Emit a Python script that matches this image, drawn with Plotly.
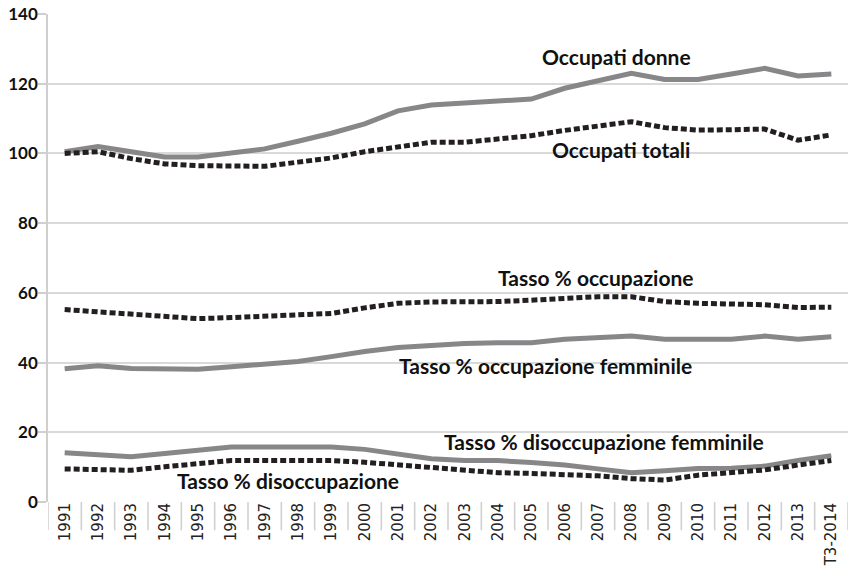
import plotly.graph_objects as go

categories = ["1991", "1992", "1993", "1994", "1995", "1996", "1997", "1998", "1999", "2000",
              "2001", "2002", "2003", "2004", "2005", "2006", "2007", "2008", "2009", "2010",
              "2011", "2012", "2013", "T3-2014"]

occupati_donne = [100.5, 102.0, 100.5, 99.0, 99.0, 100.3, 101.3, 103.5, 105.8, 108.5,
                  112.2, 113.9, 114.4, 115.0, 115.6, 118.7, 120.9, 123.0, 121.2, 121.2,
                  122.8, 124.4, 122.2, 122.8]
occupati_totali = [100.0, 100.5, 98.5, 97.0, 96.5, 96.3, 96.3, 97.5, 98.7, 100.5,
                   102.0, 103.2, 103.2, 104.0, 105.1, 106.6, 107.9, 109.1, 107.4, 106.7,
                   106.8, 107.0, 103.8, 105.3]
tasso_occupazione = [55.2, 54.6, 53.8, 53.2, 52.6, 52.9, 53.2, 53.5, 54.1, 55.7,
                     57.0, 57.4, 57.3, 57.5, 57.9, 58.4, 58.9, 58.9, 57.5, 57.0,
                     56.7, 56.6, 55.8, 55.9]
tasso_occ_femminile = [38.2, 39.1, 38.3, 38.1, 38.1, 38.8, 39.5, 40.3, 41.7, 43.2,
                       44.3, 45.0, 45.5, 45.7, 45.7, 46.7, 47.1, 47.6, 46.7, 46.7,
                       46.7, 47.6, 46.7, 47.4]
tasso_disocc_femminile = [14.1, 13.7, 13.0, 13.9, 14.8, 15.8, 15.8, 15.8, 15.8, 15.1,
                          13.8, 12.4, 11.9, 11.9, 11.3, 10.6, 9.5, 8.4, 9.0, 9.6,
                          9.7, 10.3, 11.9, 13.3]
tasso_disoccupazione = [9.5, 9.3, 9.1, 10.1, 11.1, 11.9, 11.9, 11.9, 11.9, 11.4,
                        10.6, 9.7, 9.0, 8.4, 8.2, 8.0, 7.5, 6.7, 6.3, 7.7,
                        8.4, 9.2, 10.6, 11.9]

y_ticks = [0, 20, 40, 60, 80, 100, 120, 140]

GRAY = "#87878a"
DARK = "#231f20"
solid = dict(color=GRAY, width=5)
dotted = dict(color=DARK, width=5, dash="6px,3px")

fig = go.Figure()
series = [
    ("Occupati donne", occupati_donne, solid),
    ("Occupati totali", occupati_totali, dotted),
    ("Tasso % occupazione", tasso_occupazione, dotted),
    ("Tasso % occupazione femminile", tasso_occ_femminile, solid),
    ("Tasso % disoccupazione femminile", tasso_disocc_femminile, solid),
    ("Tasso % disoccupazione", tasso_disoccupazione, dotted),
]
for name, vals, ln in series:
    fig.add_trace(go.Scatter(x=categories, y=vals, mode="lines", name=name, line=ln,
                             hoverinfo="skip"))

label_font = dict(family="Lato, sans-serif", size=21, color="#111111")
labels = [
    ("Occupati donne", 16.54, 127.7),
    ("Occupati totali", 16.69, 101.0),
    ("Tasso % occupazione", 15.94, 64.3),
    ("Tasso % occupazione femminile", 14.41, 39.1),
    ("Tasso % disoccupazione femminile", 16.18, 17.5),
    ("Tasso % disoccupazione", 6.7, 6.3),
]
for text, xi, yv in labels:
    fig.add_annotation(x=xi, y=yv, xref="x", yref="y", text="<b>" + text + "</b>",
                       showarrow=False, font=label_font, xanchor="center", yanchor="middle")

# category separators below the axis
for i in range(len(categories) + 1):
    fig.add_shape(type="line", xref="x", yref="paper", x0=i - 0.5, x1=i - 0.5,
                  y0=0, y1=-0.058, line=dict(color="#cfcfcf", width=1.5))

fig.update_layout(
    width=851, height=571,
    margin=dict(l=48, r=3, t=14, b=69),
    paper_bgcolor="white", plot_bgcolor="white",
    showlegend=False,
    xaxis=dict(type="category", range=[-0.5, len(categories) - 0.5], automargin=False,
               showgrid=False, zeroline=False, showline=False,
               ticks="", tickangle=-90, ticklabelstandoff=-3,
               tickfont=dict(family="DejaVu Sans, sans-serif", size=15, color="#222222")),
    yaxis=dict(range=[0, 140], tickvals=y_ticks, automargin=False,
               showgrid=True, gridcolor="#d9d9d9", gridwidth=1.5,
               zeroline=False, showline=True, linecolor="#cfcfcf", linewidth=1.5,
               ticks="outside", ticklen=8, tickcolor="#cfcfcf", tickwidth=1.5,
               ticklabelstandoff=-3,
               tickfont=dict(family="Lato, sans-serif", size=17, color="#111111", weight="bold")),
)

fig.write_html("out.html", config={"displayModeBar": False},
               post_script="document.body.style.margin='0';")
